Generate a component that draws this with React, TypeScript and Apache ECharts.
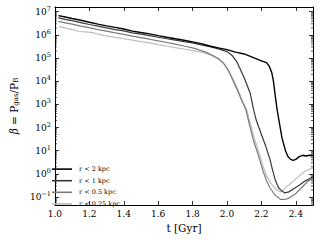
import React, { useEffect, useRef } from "react";
import * as echarts from "echarts";

const SERIES_NAMES = ["r < 2 kpc", "r < 1 kpc", "r < 0.5 kpc", "r < 0.25 kpc"];
const SERIES_COLORS = ["#000000", "#383838", "#7a7a7a", "#bdbdbd"];
const SERIES_WIDTHS = [1.4, 1.2, 1.2, 1.2];

const T_R2 = [1.02, 1.06, 1.1, 1.15, 1.2, 1.25, 1.3, 1.35, 1.4, 1.45, 1.5, 1.55, 1.6, 1.65, 1.7, 1.75, 1.8, 1.85, 1.9, 1.95, 2.0, 2.05, 2.1, 2.15, 2.2, 2.23, 2.245, 2.26, 2.27, 2.28, 2.29, 2.3, 2.32, 2.34, 2.355, 2.37, 2.385, 2.4, 2.42, 2.44, 2.46, 2.48, 2.5];
const BETA_R2 = [6.8e6, 5.9e6, 5.1e6, 4.3e6, 3.5e6, 2.9e6, 2.45e6, 2.1e6, 1.8e6, 1.45e6, 1.26e6, 1.1e6, 9.3e5, 7.9e5, 6.8e5, 5.9e5, 5.0e5, 4.2e5, 3.3e5, 2.75e5, 2.3e5, 1.8e5, 1.5e5, 1.07e5, 7.6e4, 6.3e4, 4.5e4, 2.4e4, 1.0e4, 2.5e3, 710, 250, 35, 10, 5.5, 4.2, 3.8, 4.2, 5.5, 6.3, 5.9, 6.3, 6.2];

const T_R1 = [1.02, 1.06, 1.1, 1.15, 1.2, 1.25, 1.3, 1.35, 1.4, 1.45, 1.5, 1.55, 1.6, 1.65, 1.7, 1.75, 1.8, 1.85, 1.9, 1.95, 2.0, 2.03, 2.06, 2.1, 2.135, 2.155, 2.17, 2.2, 2.226, 2.25, 2.265, 2.28, 2.3, 2.32, 2.336, 2.36, 2.39, 2.42, 2.447, 2.47, 2.5];
const BETA_R1 = [5.4e6, 4.7e6, 4.1e6, 3.4e6, 2.8e6, 2.4e6, 2.0e6, 1.7e6, 1.48e6, 1.23e6, 1.07e6, 9.3e5, 7.9e5, 6.8e5, 5.9e5, 5.1e5, 4.5e5, 3.7e5, 3.1e5, 2.5e5, 1.9e5, 1.3e5, 6.3e4, 1.4e4, 3.0e3, 580, 210, 50, 15, 4.2, 1.45, 0.56, 0.25, 0.18, 0.15, 0.166, 0.23, 0.32, 0.45, 0.56, 0.76];

const T_R05 = [1.02, 1.06, 1.1, 1.15, 1.2, 1.25, 1.3, 1.35, 1.4, 1.45, 1.5, 1.55, 1.6, 1.65, 1.7, 1.75, 1.8, 1.85, 1.88, 1.92, 1.95, 1.98, 2.006, 2.03, 2.06, 2.085, 2.11, 2.13, 2.153, 2.18, 2.208, 2.23, 2.25, 2.28, 2.31, 2.33, 2.355, 2.38, 2.4, 2.42, 2.447, 2.47, 2.5];
const BETA_R05 = [3.8e6, 3.3e6, 2.9e6, 2.4e6, 2.05e6, 1.7e6, 1.45e6, 1.23e6, 1.05e6, 8.9e5, 7.6e5, 6.5e5, 5.5e5, 4.7e5, 4.0e5, 3.3e5, 2.75e5, 2.1e5, 1.75e5, 1.26e5, 9.5e4, 6.0e4, 3.1e4, 1.26e4, 4.2e3, 1.5e3, 580, 140, 29, 7.1, 1.45, 0.5, 0.25, 0.12, 0.079, 0.078, 0.085, 0.11, 0.14, 0.2, 0.32, 0.47, 0.66];

const T_R025 = [1.02, 1.06, 1.1, 1.14, 1.18, 1.22, 1.25, 1.3, 1.35, 1.4, 1.45, 1.5, 1.55, 1.6, 1.65, 1.7, 1.75, 1.8, 1.85, 1.89, 1.92, 1.95, 1.98, 2.01, 2.035, 2.06, 2.09, 2.115, 2.135, 2.16, 2.185, 2.21, 2.235, 2.26, 2.285, 2.31, 2.33, 2.345, 2.36, 2.38, 2.41, 2.447, 2.47, 2.5];
const BETA_R025 = [2.3e6, 2.0e6, 1.7e6, 1.4e6, 1.35e6, 1.26e6, 1.07e6, 9.1e5, 7.8e5, 6.8e5, 5.9e5, 5.1e5, 4.5e5, 3.8e5, 3.3e5, 2.8e5, 2.45e5, 2.1e5, 1.78e5, 1.48e5, 1.2e5, 9.1e4, 5.8e4, 2.8e4, 1.26e4, 5.0e3, 1.4e3, 580, 160, 32, 8.9, 2.0, 0.7, 0.35, 0.21, 0.166, 0.2, 0.28, 0.32, 0.45, 0.7, 1.2, 1.48, 1.78];

const SERIES_T = [T_R2, T_R1, T_R05, T_R025];
const SERIES_BETA = [BETA_R2, BETA_R1, BETA_R05, BETA_R025];

const X_MIN = 1.0;
const X_MAX = 2.5;
const X_INTERVAL = 0.2;
const Y_MIN = 0.045;
const Y_MAX = 1.6e7;
const Y_MINOR_MANTISSAS = [2, 3, 4, 5, 6, 7, 8, 9];
const Y_MINOR_DECADES = [-2, -1, 0, 1, 2, 3, 4, 5, 6, 7];

const X_LABEL = "t [Gyr]";
const FONT = "DejaVu Serif";

export default function App() {
  const ref = useRef<HTMLDivElement>(null);
  useEffect(() => {
    document.body.style.margin = "0";
    if (!ref.current) return;
    const chart = echarts.init(ref.current, undefined, { renderer: "svg" });

    const minorTicks: number[][] = [];
    Y_MINOR_DECADES.forEach((d) => {
      Y_MINOR_MANTISSAS.forEach((m) => {
        const v = m * Math.pow(10, d);
        if (v > Y_MIN && v < Y_MAX) minorTicks.push([X_MIN, v]);
      });
    });

    const yLabel = (value: number) => {
      const e = Math.round(Math.log10(value));
      const es = e < 0 ? "\u2212" + String(-e) : String(e);
      return `{b|10}{e|${es}}`;
    };
    const yRich = {
      b: { fontSize: 9, fontFamily: FONT, color: "#000" },
      e: { fontSize: 6.5, fontFamily: FONT, color: "#000", padding: [0, 0, 6, 0] },
    };

    const baseY = {
      type: "log" as const,
      logBase: 10,
      min: Y_MIN,
      max: Y_MAX,
      axisLine: { show: true, lineStyle: { color: "#000", width: 1 } },
      axisTick: { show: true, inside: true, length: 4, lineStyle: { color: "#000", width: 0.8 } },
      splitLine: { show: false },
    };
    const baseX = {
      type: "value" as const,
      min: X_MIN,
      max: X_MAX,
      interval: X_INTERVAL,
      axisLine: { show: true, lineStyle: { color: "#000", width: 1 } },
      axisTick: { show: true, inside: true, length: 4, lineStyle: { color: "#000", width: 0.8 } },
      splitLine: { show: false },
    };

    const lineSeries = SERIES_NAMES.map((name, i) => ({
      name,
      type: "line",
      data: SERIES_T[i].map((t, j) => [t, SERIES_BETA[i][j]]),
      symbol: "none",
      showSymbol: false,
      smooth: false,
      lineStyle: { color: SERIES_COLORS[i], width: SERIES_WIDTHS[i] },
      itemStyle: { color: SERIES_COLORS[i] },
      z: 10 - i,
    }));

    chart.setOption({
      animation: false,
      backgroundColor: "#ffffff",
      grid: { left: 41, right: 7, top: 7, bottom: 35, containLabel: false },
      legend: {
        data: SERIES_NAMES,
        orient: "vertical",
        left: 47,
        top: 160,
        icon: "rect",
        itemWidth: 20,
        itemHeight: 1.6,
        itemGap: 3.4,
        textStyle: { fontFamily: FONT, fontSize: 6.5, color: "#000000", padding: [0, 0, 0, 2], lineHeight: 8.2 },
        selectedMode: false,
      },
      xAxis: [
        {
          ...baseX,
          position: "bottom",
          name: X_LABEL,
          nameLocation: "middle",
          nameGap: 17,
          nameTextStyle: { fontFamily: FONT, fontSize: 10.5, color: "#000" },
          axisLabel: {
            show: true,
            fontFamily: FONT,
            fontSize: 9,
            color: "#000",
            margin: 4,
            showMaxLabel: false,
            formatter: (v: number) => v.toFixed(1),
          },
        },
        { ...baseX, position: "top", axisLabel: { show: false } },
      ],
      yAxis: [
        {
          ...baseY,
          position: "left",
          name: "{i|β} = P{s|gas}/P{s|B}",
          nameLocation: "middle",
          nameGap: 23,
          nameTextStyle: {
            fontFamily: FONT,
            fontSize: 10.5,
            color: "#000",
            rich: {
              i: { fontFamily: FONT, fontSize: 10.5, fontStyle: "italic", color: "#000" },
              s: { fontFamily: FONT, fontSize: 7, color: "#000", padding: [4, 0, 0, 0] },
            },
          },
          axisLabel: {
            show: true,
            margin: 4,
            showMinLabel: false,
            showMaxLabel: false,
            formatter: yLabel,
            rich: yRich,
          },
        },
        { ...baseY, position: "right", axisLabel: { show: false } },
      ],
      series: [
        ...lineSeries,
        {
          name: "minorTicks",
          type: "custom",
          xAxisIndex: 0,
          yAxisIndex: 0,
          silent: true,
          data: minorTicks,
          renderItem: (_p: any, api: any) => {
            const v = api.value(1);
            const pL = api.coord([X_MIN, v]);
            const pR = api.coord([X_MAX, v]);
            return {
              type: "group",
              children: [
                { type: "line", shape: { x1: pL[0], y1: pL[1], x2: pL[0] + 2, y2: pL[1] }, style: { stroke: "#000", lineWidth: 0.7 } },
                { type: "line", shape: { x1: pR[0], y1: pR[1], x2: pR[0] - 2, y2: pR[1] }, style: { stroke: "#000", lineWidth: 0.7 } },
              ],
            };
          },
          z: 1,
        },
      ],
    });
    return () => chart.dispose();
  }, []);
  return <div ref={ref} style={{ width: 320, height: 240 }} />;
}
